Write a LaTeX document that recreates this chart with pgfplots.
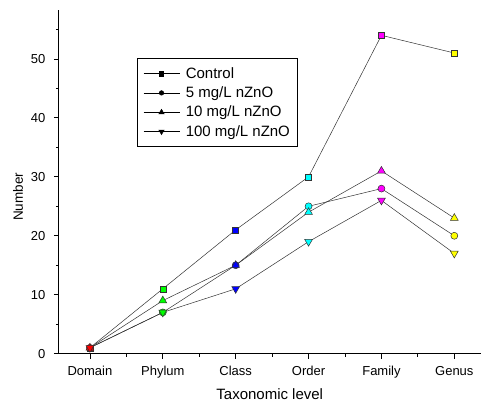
\documentclass[border=0pt]{standalone}
\usepackage{fontspec}
\setmainfont{Liberation Sans}
\usepackage{pgfplots}
\pgfplotsset{compat=1.18}

\definecolor{cR}{RGB}{255,0,0}
\definecolor{cG}{RGB}{0,255,0}
\definecolor{cB}{RGB}{0,0,255}
\definecolor{cC}{RGB}{0,255,255}
\definecolor{cM}{RGB}{255,0,255}
\definecolor{cY}{RGB}{255,255,0}
\definecolor{lineg}{RGB}{50,50,50}

\pgfplotsset{
  taxmarks/.style={lineg, line width=0.5pt, scatter, point meta=explicit symbolic,
    mark size=#1,
    scatter/classes={
      d={fill=cR, draw=lineg},
      p={fill=cG, draw=lineg},
      c={fill=cB, draw=lineg},
      o={fill=cC, draw=lineg},
      f={fill=cM, draw=lineg},
      g={fill=cY, draw=lineg}}},
}

\begin{document}
\begin{tikzpicture}
\path (-59pt,-49pt) rectangle (422pt,354pt);
\begin{axis}[
  scale only axis, width=422pt, height=344pt,
  xmin=-0.425, xmax=5.36, ymin=0, ymax=58.3,
  axis x line=bottom, axis y line=left,
  axis line style={-, line width=0.9pt},
  tick align=outside, tick style={black, line width=0.8pt},
  major tick length=5pt, minor tick length=3pt,
  xtick={0,...,5},
  xticklabels={Domain,Phylum,Class,Order,Family,Genus},
  minor xtick={0.5,1.5,2.5,3.5,4.5},
  ytick={0,10,...,50}, minor ytick={5,15,...,55},
  /pgf/number format/assume math mode=true,
  ticklabel style={font=\fontsize{13}{13}\selectfont},
  xticklabel style={yshift=-4pt},
  yticklabel style={xshift=-5pt},
  xlabel={Taxonomic level}, ylabel={Number},
  xlabel style={font=\fontsize{15}{15}\selectfont,
    at={(axis description cs:0.5,-0.119)}, anchor=center},
  ylabel style={font=\fontsize{13.5}{13.5}\selectfont,
    at={(axis description cs:-0.097,0.456)}, anchor=center},
  legend style={at={(0.185,0.86)}, anchor=north west, draw=black, line width=0.6pt,
    font=\fontsize{15}{15}\selectfont, row sep=5pt, inner xsep=6pt, inner ysep=8pt,
    nodes={inner sep=1pt}, column sep=5pt},
  legend cell align=left,
  legend image code/.code={
    \draw[black, line width=0.6pt] (0pt,0pt) -- (36pt,0pt);
    \draw[mark repeat=1, #1] plot coordinates {(18pt,0pt)};},
]
\addplot[taxmarks=3pt, mark=square*, forget plot] coordinates {
  (0,1) [d] (1,11) [p] (2,21) [c] (3,30) [o] (4,54) [f] (5,51) [g]};
\addplot[taxmarks=3.5pt, mark=*, forget plot] coordinates {
  (0,1) [d] (1,7) [p] (2,15) [c] (3,25) [o] (4,28) [f] (5,20) [g]};
\addplot[taxmarks=4.5pt, mark=triangle*, forget plot] coordinates {
  (0,1) [d] (1,9) [p] (2,15) [c] (3,24) [o] (4,31) [f] (5,23) [g]};
\addplot[taxmarks=4.5pt, mark=triangle*, mark options={rotate=180}, forget plot] coordinates {
  (0,1) [d] (1,7) [p] (2,11) [c] (3,19) [o] (4,26) [f] (5,17) [g]};
\addlegendimage{black, line width=0.5pt, mark=square*, mark size=2.2pt}
\addlegendentry{Control}
\addlegendimage{black, line width=0.5pt, mark=*, mark size=2.3pt}
\addlegendentry{5 mg/L nZnO}
\addlegendimage{black, line width=0.5pt, mark=triangle*, mark size=3pt}
\addlegendentry{10 mg/L nZnO}
\addlegendimage{black, line width=0.5pt, mark=triangle*, mark size=3pt, mark options={rotate=180}}
\addlegendentry{100 mg/L nZnO\hspace{5pt}}
\end{axis}
\end{tikzpicture}
\end{document}
